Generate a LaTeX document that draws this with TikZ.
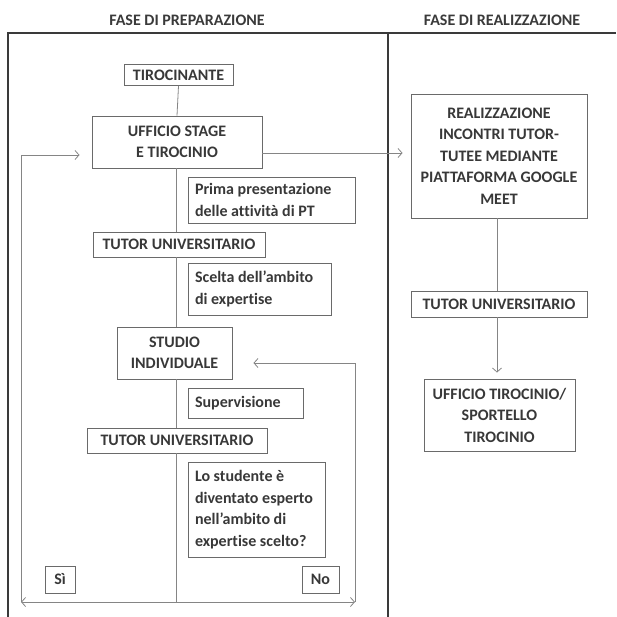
\documentclass[tikz,border=0pt]{standalone}
\usepackage{fontspec}
\setmainfont{Carlito}[Ligatures=CommonOff]
\usetikzlibrary{arrows.meta}
\definecolor{txt}{HTML}{383838}
\definecolor{frm}{HTML}{3A3A3A}
\definecolor{bx}{HTML}{6A6A6A}
\definecolor{ln}{HTML}{858585}
\tikzset{
  base/.style={font={\bfseries\fontsize{16}{21.5}\selectfont}, text=txt},
  cbox/.style={base, draw=bx, line width=0.9pt, inner sep=0pt, align=center},
  lbox/.style={base, draw=bx, line width=0.9pt, inner ysep=0pt, inner xsep=7pt, align=flush left},
  head/.style={base, text=frm, inner sep=0pt},
  conn/.style={draw=ln, line width=0.8pt},
  arr/.style={conn, -{Straight Barb[length=4pt,width=9pt]}},
  darr/.style={conn, {Straight Barb[length=4pt,width=9pt]}-{Straight Barb[length=4pt,width=9pt]}},
  frame/.style={draw=frm, line width=1.2pt}
}
\begin{document}
\begin{tikzpicture}[x=1pt,y=-1pt]
\useasboundingbox (0,0) rectangle (616,617);
% frame
\draw[frame] (8,617) -- (8,33) -- (616,33);
\draw[frame] (388,33) -- (388,617);
% headers
\node[head] (h1) at (187,20) {FASE DI PREPARAZIONE};
\node[head] (h2) at (502,20) {FASE DI REALIZZAZIONE};
% left column
\node[cbox, minimum width=109pt, minimum height=21pt] (tir) at (178.5,75) {TIROCINANTE};
\node[cbox, minimum width=170pt, minimum height=52pt] (uff) at (177,142) {UFFICIO STAGE\\E TIROCINIO};
\node[lbox, text width=153pt, minimum height=46pt] (prima) at (271.5,200) {Prima presentazione\\delle attività di PT};
\node[cbox, minimum width=172pt, minimum height=25pt] (tu1) at (179,244.5) {TUTOR UNIVERSITARIO};
\node[lbox, text width=129pt, minimum height=52pt] (scelta) at (259.5,289) {Scelta dell’ambito\\di expertise};
\node[cbox, minimum width=115pt, minimum height=52pt] (studio) at (174.5,353) {STUDIO\\INDIVIDUALE};
\node[lbox, text width=101pt, minimum height=30pt] (sup) at (245.5,403) {Supervisione};
\node[cbox, minimum width=180pt, minimum height=25pt] (tu2) at (177,440.5) {TUTOR UNIVERSITARIO};
\node[lbox, text width=123pt, minimum height=95pt] (lo) at (256.5,509.5) {Lo studente è\\diventato esperto\\nell’ambito di\\expertise scelto?};
\node[cbox, minimum width=30pt, minimum height=27pt] (si) at (60,579.5) {Sì};
\node[cbox, minimum width=37pt, minimum height=27pt] (no) at (320.5,579.5) {No};
% right column
\node[cbox, minimum width=176pt, minimum height=124pt] (real) at (499,156) {REALIZZAZIONE\\INCONTRI TUTOR-\\TUTEE MEDIANTE\\PIATTAFORMA GOOGLE\\MEET};
\node[cbox, minimum width=176pt, minimum height=26pt] (tu3) at (499,304) {TUTOR UNIVERSITARIO};
\node[cbox, minimum width=151pt, minimum height=72pt] (ufft) at (499.5,415) {UFFICIO TIROCINIO/\\SPORTELLO\\TIROCINIO};
% helper coordinates
\coordinate (bl) at (21,602);
\coordinate (bm) at (176,602);
\coordinate (br) at (355,602);
% connectors
\draw[conn] (tir.south) -- (uff.north);
\draw[conn] (uff.south -| bm) -- (tu1.north -| bm);
\draw[conn] (tu1.south -| bm) -- (studio.north -| bm);
\draw[conn] (studio.south -| bm) -- (tu2.north -| bm);
\draw[conn] (tu2.south -| bm) -- (bm);
\draw[darr] (bl) -- (br);
\draw[arr, shorten >=12pt] (bl) -- ([yshift=-13pt]uff.west -| bl) -- ([yshift=-13pt]uff.west);
\draw[arr, shorten >=21pt] (br) -- ([yshift=-10pt]studio.east -| br) -- ([yshift=-10pt]studio.east);
\draw[arr, shorten >=8pt] ([yshift=-11pt]uff.east) -- ([yshift=-11pt]uff.east -| real.west);
\draw[conn] (real.south -| 497,0) -- (tu3.north -| 497,0);
\draw[arr, shorten >=6pt] (tu3.south -| 497,0) -- (ufft.north -| 497,0);
\end{tikzpicture}
\end{document}
